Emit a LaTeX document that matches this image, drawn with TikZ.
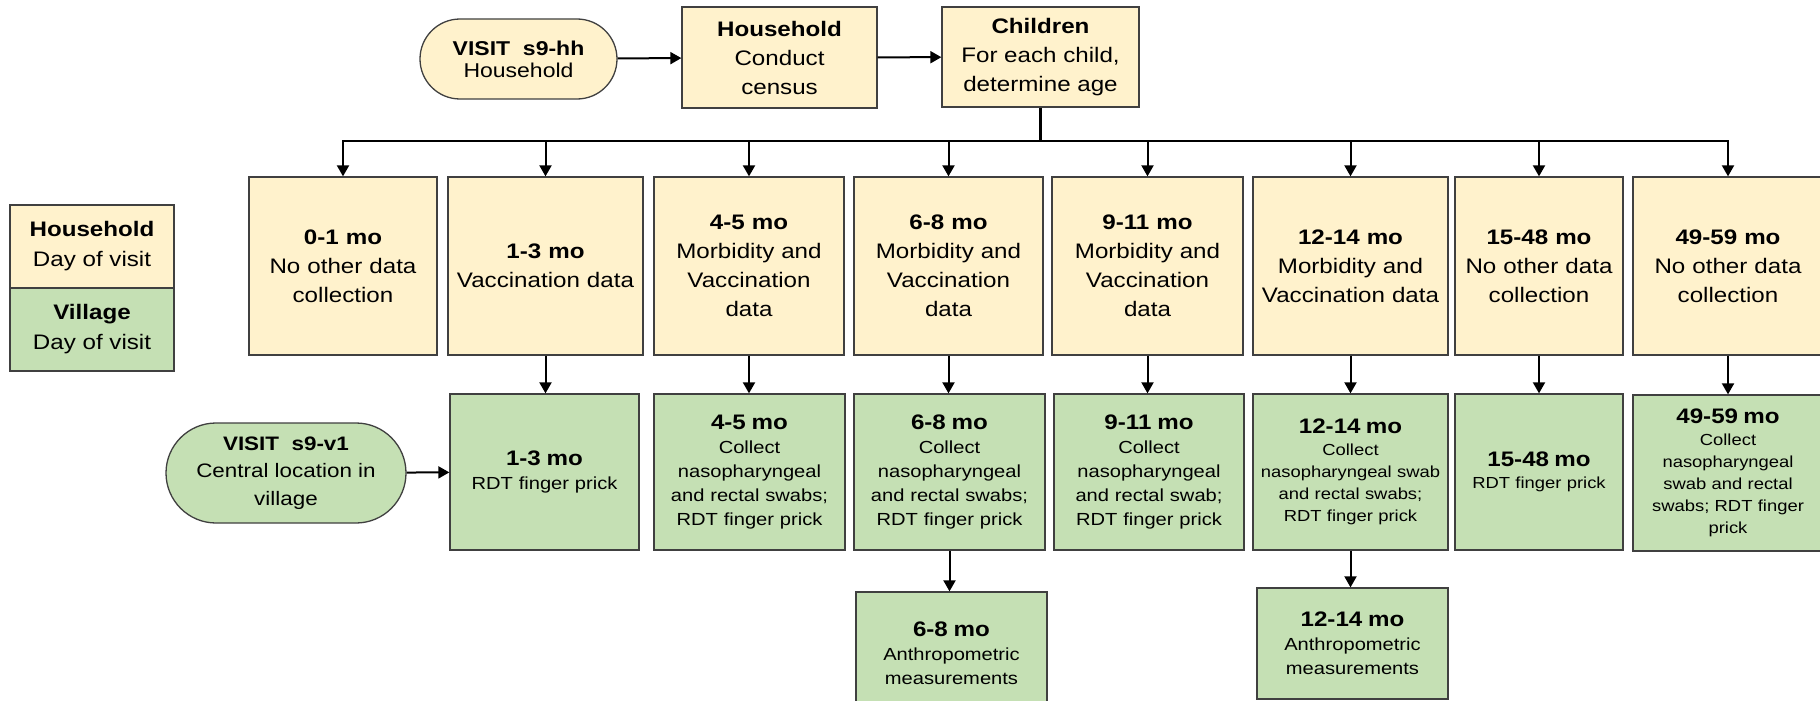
\documentclass[tikz,border=0pt]{standalone}
\usepackage{fontspec}
\setmainfont[FakeStretch=1.15]{Liberation Sans}
\usetikzlibrary{arrows.meta,shapes.misc}
\definecolor{hhyellow}{HTML}{FFF2CC}
\definecolor{vilgreen}{HTML}{C5E0B4}
\definecolor{boxline}{HTML}{404040}
\newcommand{\agetitle}[1]{{\fontsize{21}{29}\selectfont\bfseries #1\par}}

\begin{document}
\begin{tikzpicture}[x=1pt, y=-1pt, line width=2pt, >={Triangle[width=12pt,length=11pt]},
    every node/.style={draw=boxline, line width=1.3pt, inner sep=0pt},
    topbox/.style={fill=hhyellow, align=center, font=\fontsize{21}{29}\selectfont},
    hhbox/.style={fill=hhyellow, text width=#1pt, minimum height=178pt, align=center, font=\fontsize{21}{29}\selectfont},
    vilbox/.style={fill=vilgreen, text width=#1pt, minimum height=156pt, align=center, font=\fontsize{17.5}{24}\selectfont},
    vilsmall/.style={vilbox=#1, font=\fontsize{16}{22}\selectfont},
    visitpill/.style={rounded rectangle, align=center}]
            \useasboundingbox (0,0) rectangle (1820,701);
            \clip (0,0) rectangle (1820,701);

            % Nodes
            \node[visitpill, fill=hhyellow, font=\fontsize{20}{22}\selectfont, minimum width=197pt, minimum height=80pt] (hhvisit) at (518.5,59) {\textbf{VISIT~ s9-hh}\\Household};
            \node[topbox, minimum width=195pt, minimum height=101pt] (house) at (779.5,57.5) {\textbf{Household}\\Conduct\\census};
            \node[topbox, minimum width=197pt, minimum height=100pt] (kids) at (1040.5,57) {\textbf{Children}\\For each child,\\determine age};

            % legend
            \node[topbox, font=\fontsize{21}{30}\selectfont, minimum width=164pt, minimum height=83pt] (leghh) at (92,246.5) {\textbf{Household}\\Day of visit};
            \node[topbox, fill=vilgreen, font=\fontsize{21}{30}\selectfont, minimum width=164pt, minimum height=83pt] (legvil) at (92,329.5) {\textbf{Village}\\Day of visit};

            % household visit
            \node[hhbox=188] (h1) at (343,266) {\agetitle{0-1 mo}No other data\\collection};
            \node[hhbox=195] (h2) at (545.5,266) {\agetitle{1-3 mo}Vaccination data};
            \node[hhbox=190] (h3) at (749,266) {\agetitle{4-5 mo}Morbidity and\\Vaccination\\data};
            \node[hhbox=189] (h4) at (948.5,266) {\agetitle{6-8 mo}Morbidity and\\Vaccination\\data};
            \node[hhbox=191] (h5) at (1147.5,266) {\agetitle{9-11 mo}Morbidity and\\Vaccination\\data};
            \node[hhbox=195] (h6) at (1350.5,266) {\agetitle{12-14 mo}Morbidity and\\Vaccination data};
            \node[hhbox=168] (h7) at (1539,266) {\agetitle{15-48 mo}No other data\\collection};
            \node[hhbox=190] (h8) at (1728,266) {\agetitle{49-59 mo}No other data\\collection};

            % village visit
            \node[visitpill, fill=vilgreen, font=\fontsize{19.5}{27.5}\selectfont, minimum width=240pt, minimum height=100pt] (vilvisit) at (286,473) {\textbf{VISIT~ s9-v1}\\Central location in\\village};
            \node[vilbox=189] (v2) at (544.5,472) {\agetitle{1-3 mo}RDT finger prick};
            \node[vilbox=191] (v3) at (749.5,472) {\agetitle{4-5 mo}Collect\\nasopharyngeal\\and rectal swabs;\\RDT finger prick};
            \node[vilbox=191] (v4) at (949.5,472) {\agetitle{6-8 mo}Collect\\nasopharyngeal\\and rectal swabs;\\RDT finger prick};
            \node[vilbox=190] (v5) at (1149,472) {\agetitle{9-11 mo}Collect\\nasopharyngeal\\and rectal swab;\\RDT finger prick};
            \node[vilsmall=195] (v6) at (1350.5,472) {\agetitle{12-14 mo}Collect\\nasopharyngeal swab\\and rectal swabs;\\RDT finger prick};
            \node[vilsmall=168] (v7) at (1539,472) {\agetitle{15-48 mo}RDT finger prick};
            \node[vilsmall=190] (v8) at (1728,473) {\agetitle{49-59 mo}Collect\\nasopharyngeal\\swab and rectal\\swabs; RDT finger\\prick};
            \node[vilbox=191, minimum height=122pt] (a4) at (951.5,653) {\agetitle{6-8 mo}Anthropometric\\measurements};
            \node[vilbox=191, minimum height=111pt] (a6) at (1352.5,643.5) {\agetitle{12-14 mo}Anthropometric\\measurements};

            % Edges
            \draw[->] (hhvisit) -- (house);
            \draw[->] (house) -- (kids);
            \coordinate (bus) at (1043,141);
            \draw[line width=3pt] (kids) -- (kids |- bus);
            \draw[<->] (h1.north) |- (bus) -| (h8.north);
            \foreach \i in {2,...,7} {
                \draw[->] (h\i |- bus) -- (h\i);
            }
            \foreach \i in {2,...,8} {
                \draw[->] (h\i) -- (h\i |- v\i.north);
            }
            \draw[->] (vilvisit) -- (v2);
            \draw[->] (v4) -- (v4 |- a4.north);
            \draw[->] (v6) -- (v6 |- a6.north);
\end{tikzpicture}
\end{document}
